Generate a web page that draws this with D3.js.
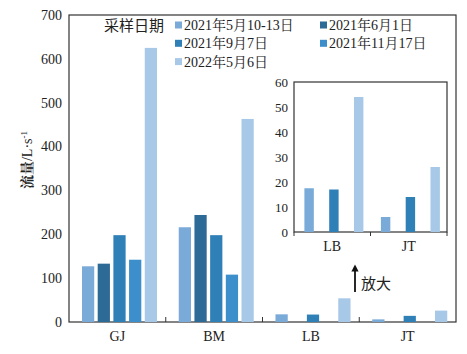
<!DOCTYPE html>
<html>
<head>
<meta charset="utf-8">
<script src="https://cdn.jsdelivr.net/npm/d3@7"></script>
<style>
  body { margin: 0; background: #fff; }
  text { font-family: "Liberation Serif", "Noto Serif CJK SC", "Noto Sans CJK SC", serif; fill: #222; }
</style>
</head>
<body>
<div id="chart"></div>
<script>
// data
const sites = ["GJ", "BM", "LB", "JT"];
const dates = ["2021年5月10-13日", "2021年6月1日", "2021年9月7日", "2021年11月17日", "2022年5月6日"];
const colors = ["#7aaad8", "#2d6a96", "#3080b8", "#3d8fcc", "#a8c8e8"];
const flow = {
  GJ: [127, 133, 198, 142, 625],
  BM: [216, 244, 198, 108, 463],
  LB: [17.5, null, 17, null, 54],
  JT: [6, null, 14, null, 26]
};
const yTicks = [0, 100, 200, 300, 400, 500, 600, 700];
const insetSites = ["LB", "JT"];
const insetTicks = [0, 10, 20, 30, 40, 50, 60];

const W = 467, H = 354;
const svg = d3.select("#chart").append("svg").attr("width", W).attr("height", H);

/******* main chart */
const m = { left: 69, right: 456, top: 15, bottom: 322 };

const x0 = d3.scaleBand().domain(sites).range([m.left, m.right]).padding(0);
const x1 = d3.scaleBand().domain(d3.range(5)).range([13, 13 + 75]).paddingInner(0.22).paddingOuter(0);
const y = d3.scaleLinear().domain([0, 700]).range([m.bottom, m.top]);

// frame
svg.append("rect").attr("x", m.left).attr("y", m.top)
  .attr("width", m.right - m.left).attr("height", m.bottom - m.top)
  .attr("fill", "none").attr("stroke", "#333").attr("stroke-width", 1.2);

const groups = svg.selectAll(".grp").data(sites).enter().append("g")
  .attr("transform", d => `translate(${x0(d)},0)`);

groups.selectAll("rect").data(d => flow[d].map((v, i) => ({ v, i })).filter(e => e.v != null))
  .enter().append("rect")
  .attr("x", e => x1(e.i)).attr("width", x1.bandwidth())
  .attr("y", e => y(e.v)).attr("height", e => y(0) - y(e.v))
  .attr("fill", e => colors[e.i]);

// y axis labels
svg.selectAll(".ytick").data(yTicks).enter().append("text")
  .attr("x", 62).attr("y", d => y(d)).attr("dy", "0.35em")
  .attr("text-anchor", "end").style("font-size", "14px").text(d => d);

// x tick marks between categories
svg.selectAll(".xtick").data(sites.slice(1)).enter().append("line")
  .attr("x1", d => x0(d)).attr("x2", d => x0(d))
  .attr("y1", m.bottom - 5).attr("y2", m.bottom)
  .attr("stroke", "#333").attr("stroke-width", 1);

svg.selectAll(".xlab").data(sites).enter().append("text")
  .attr("x", d => x0(d) + x0.bandwidth() / 2).attr("y", 341)
  .attr("text-anchor", "middle").style("font-size", "14px").text(d => d);

// y title
const yt = svg.append("text").attr("transform", "translate(32,160) rotate(-90)")
  .attr("text-anchor", "middle").style("font-size", "14px");
yt.append("tspan").style("font-weight", "bold").text("流量");
yt.append("tspan").text("/L·s");
yt.append("tspan").attr("dy", "-5").style("font-size", "9px").text("-1");

// legend
svg.append("text").attr("x", 104).attr("y", 31).style("font-size", "15px")
  .style("font-family", "'Noto Sans CJK SC', sans-serif").text("采样日期");
const legPos = [[175, 25], [320, 25], [175, 43.3], [320, 43.3], [175, 61.6]];
const leg = svg.selectAll(".leg").data(dates).enter().append("g")
  .attr("transform", (d, i) => `translate(${legPos[i][0]},${legPos[i][1]})`);
leg.append("rect").attr("x", 0).attr("y", -3.5).attr("width", 7).attr("height", 7)
  .attr("fill", (d, i) => colors[i]);
leg.append("text").attr("x", 9).attr("dy", "0.36em").style("font-size", "14px").text(d => d);

/******* inset */
const n = { left: 294, right: 447, top: 82, bottom: 232 };
const ix0 = d3.scaleBand().domain(insetSites).range([n.left, n.right]);
const ix1 = d3.scaleBand().domain(d3.range(5)).range([10.4, 10.4 + 59]).paddingInner(0.24).paddingOuter(0);
const iy = d3.scaleLinear().domain([0, 60]).range([n.bottom, n.top]);

svg.append("rect").attr("x", n.left).attr("y", n.top)
  .attr("width", n.right - n.left).attr("height", n.bottom - n.top)
  .attr("fill", "#fff").attr("stroke", "#333").attr("stroke-width", 1.2);

const igroups = svg.selectAll(".igrp").data(insetSites).enter().append("g")
  .attr("transform", d => `translate(${ix0(d)},0)`);
igroups.selectAll("rect").data(d => flow[d].map((v, i) => ({ v, i })).filter(e => e.v != null))
  .enter().append("rect")
  .attr("x", e => ix1(e.i)).attr("width", ix1.bandwidth())
  .attr("y", e => iy(e.v)).attr("height", e => iy(0) - iy(e.v))
  .attr("fill", e => colors[e.i]);

svg.selectAll(".itickmark").data([n.left, ix0("JT"), n.right]).enter().append("line")
  .attr("x1", d => d).attr("x2", d => d).attr("y1", n.bottom).attr("y2", n.bottom + 4)
  .attr("stroke", "#333").attr("stroke-width", 1);

svg.selectAll(".iytick").data(insetTicks).enter().append("text")
  .attr("x", 288).attr("y", d => iy(d)).attr("dy", "0.35em")
  .attr("text-anchor", "end").style("font-size", "13px").text(d => d);

svg.selectAll(".ixlab").data(insetSites).enter().append("text")
  .attr("x", d => ix0(d) + ix0.bandwidth() / 2).attr("y", 251)
  .attr("text-anchor", "middle").style("font-size", "14px").text(d => d);

// arrow + label
svg.append("defs").append("marker").attr("id", "ah")
  .attr("viewBox", "0 0 10 10").attr("refX", 5).attr("refY", 5)
  .attr("markerWidth", 4).attr("markerHeight", 4).attr("orient", "auto")
  .append("path").attr("d", "M0,0L10,5L0,10z").attr("fill", "#111");
svg.append("line").attr("x1", 355).attr("x2", 355).attr("y1", 292).attr("y2", 268)
  .attr("stroke", "#111").attr("stroke-width", 1.8).attr("marker-end", "url(#ah)");
svg.append("text").attr("x", 361).attr("y", 289).style("font-size", "15px")
  .style("font-family", "'Noto Sans CJK SC', sans-serif").text("放大");
</script>
</body>
</html>
